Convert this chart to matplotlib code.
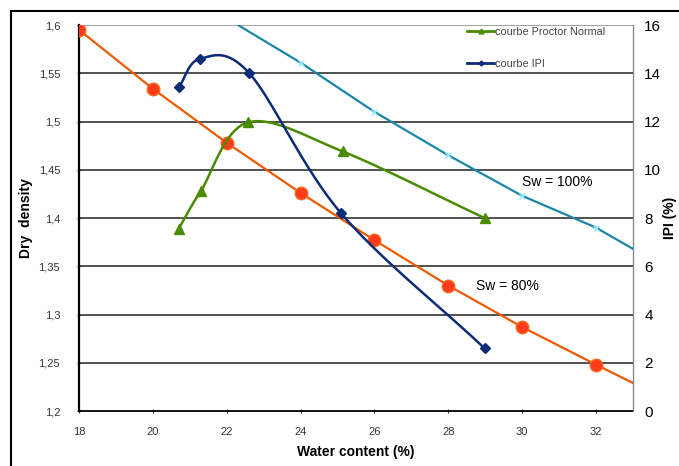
import matplotlib.pyplot as plt
from matplotlib.lines import Line2D
from matplotlib.ticker import FuncFormatter
import numpy as np

plt.rcParams['font.family'] = ['Liberation Sans', 'DejaVu Sans']

# Sw = 80% saturation line (dry density)
w_80 = [18, 20, 22, 24, 26, 28, 30, 32, 33]
d_80 = [1.595, 1.534, 1.478, 1.426, 1.377, 1.330, 1.287, 1.248, 1.229]

# Sw = 100% saturation line (dry density)
w_100 = [22, 24, 26, 28, 30, 32, 33]
d_100 = [1.607, 1.561, 1.510, 1.465, 1.423, 1.390, 1.368]

# Proctor normal curve (dry density)
w_proctor = [20.7, 21.3, 22.57, 25.14, 28.98]
d_proctor = [1.389, 1.428, 1.499, 1.469, 1.400]

# IPI curve (%)
w_ipi = [20.7, 21.28, 22.6, 25.1, 28.98]
ipi = [13.42, 14.6, 14.02, 8.19, 2.6]


def smooth(x, y, n=30):
    # catmull-rom through the points, like excel smoothed lines
    x = np.asarray(x, float)
    y = np.asarray(y, float)
    px = np.concatenate([[2 * x[0] - x[1]], x, [2 * x[-1] - x[-2]]])
    py = np.concatenate([[2 * y[0] - y[1]], y, [2 * y[-1] - y[-2]]])
    xs, ys = [], []
    t = np.linspace(0, 1, n)
    for i in range(1, len(px) - 2):
        for p, out in ((px, xs), (py, ys)):
            p0, p1, p2, p3 = p[i - 1], p[i], p[i + 1], p[i + 2]
            out.extend(0.5 * (2 * p1 + (-p0 + p2) * t
                              + (2 * p0 - 5 * p1 + 4 * p2 - p3) * t ** 2
                              + (-p0 + 3 * p1 - 3 * p2 + p3) * t ** 3))
    return xs, ys


fig = plt.figure(figsize=(6.79, 4.66), dpi=100)
ax = fig.add_axes([0.1163, 0.118, 0.816, 0.8283])
ax2 = ax.twinx()

for v in np.arange(1.25, 1.601, 0.05):
    ax.axhline(v, color='#222222' if v < 1.59 else '#888888', lw=1.1, zorder=0)

# saturation lines
ax.plot(w_100, d_100, color='#1A86A8', lw=1.6, zorder=2)
ax.plot(w_100[1:6], d_100[1:6], ls='none', marker='x', ms=5, mew=1,
        color='#8EE8FF', zorder=3)
ax.plot(w_80, d_80, color='#EE5A00', lw=1.6, zorder=2)
ax.plot(w_80[:8], d_80[:8], ls='none', marker='o', ms=9,
        color='#FF3B1A', mec='#F06A20', zorder=3)

# proctor curve
sx, sy = smooth(w_proctor, d_proctor)
ax.plot(sx, sy, color='#4A8C00', lw=1.8, zorder=4)
ax.plot(w_proctor, d_proctor, ls='none', marker='^', ms=7,
        color='#4A8C00', zorder=4)

# IPI curve
sx, sy = smooth(w_ipi, ipi)
ax2.plot(sx, sy, color='#0B2D78', lw=1.8, zorder=4)
ax2.plot(w_ipi, ipi, ls='none', marker='D', ms=5, color='#0B2D78', zorder=4)

ax.set_xlim(18, 33)
ax.set_ylim(1.2, 1.6)
ax2.set_ylim(0, 16)
ax.set_xticks([18, 20, 22, 24, 26, 28, 30, 32])
ax.set_yticks(np.arange(1.2, 1.601, 0.05))
ax.yaxis.set_major_formatter(FuncFormatter(lambda v, p: ('%g' % round(v, 2)).replace('.', ',')))
ax2.set_yticks(range(0, 17, 2))

ax.tick_params(axis='both', labelsize=8, colors='#333333', length=3, direction='inout')
ax.tick_params(axis='y', pad=12)
ax.tick_params(axis='x', pad=10)
ax2.tick_params(axis='y', labelsize=11, length=0, pad=8, labelcolor='black')
for s in ['top']:
    ax.spines[s].set_visible(False)
    ax2.spines[s].set_visible(False)
ax.spines['left'].set_linewidth(1.6)
ax.spines['bottom'].set_linewidth(1.3)
ax2.spines['right'].set_color('#888888')
ax2.spines['left'].set_visible(False)
ax2.spines['bottom'].set_visible(False)

ax.set_xlabel('Water content (%)', fontsize=10, fontweight='bold', labelpad=6)
ax.set_ylabel('Dry  density', fontsize=10, fontweight='bold', labelpad=4)
ax2.set_ylabel('IPI (%)', fontsize=10, fontweight='bold', labelpad=1)

ax.text(30.95, 1.437, 'Sw = 100%', fontsize=10, ha='center', va='center')
ax.text(29.6, 1.330, 'Sw = 80%', fontsize=10, ha='center', va='center')

h1 = Line2D([], [], color='#4A8C00', lw=2, marker='^', ms=3.5)
h2 = Line2D([], [], color='#0B2D78', lw=2, marker='D', ms=2.5)
leg = ax2.legend([h1, h2], ['courbe Proctor Normal', 'courbe IPI'],
                 loc='upper left', bbox_to_anchor=(0.683, 1.02), frameon=False,
                 fontsize=7.8, handlelength=2.5, handletextpad=0.1,
                 labelspacing=2.0)
for t in leg.get_texts():
    t.set_color('#444444')

# frame around picture
fig.add_artist(Line2D([11 / 679, 11 / 679], [0, 1 - 11 / 466],
                      transform=fig.transFigure, color='black', lw=1.5))
fig.add_artist(Line2D([11 / 679, 1], [1 - 11 / 466, 1 - 11 / 466],
                      transform=fig.transFigure, color='black', lw=1.5))

fig.savefig('out.png', dpi=100)
